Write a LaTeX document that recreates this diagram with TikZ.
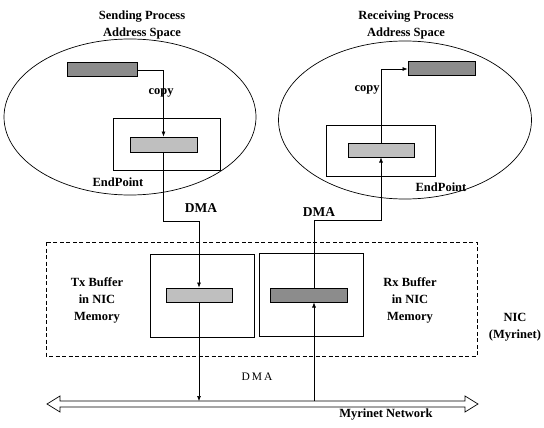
\documentclass[tikz,border=0pt]{standalone}
\usepackage{fontspec}
\setmainfont{Liberation Serif}
\usetikzlibrary{arrows.meta,shapes.geometric}
\tikzset{
  lbl/.style={font=\fontsize{12.5}{17}\selectfont\bfseries, align=center, inner sep=0pt},
  space/.style={draw, ellipse, line width=0.7pt, inner sep=0pt},
  box/.style={draw, rectangle, line width=0.7pt, inner sep=0pt},
  bufdark/.style={draw, rectangle, line width=1pt, fill=black!45, inner sep=0pt},
  buflight/.style={draw, rectangle, line width=1pt, fill=black!25, inner sep=0pt},
  conn/.style={line width=0.6pt},
  tip/.style={-{Latex[length=5pt,width=4pt]}},
}
\begin{document}
\begin{tikzpicture}[x=1pt,y=-1pt]
\useasboundingbox (0,0) rectangle (544,428);
% address spaces
\node[space, minimum width=252pt, minimum height=156pt] (elL) at (130,117) {};
\node[space, minimum width=253pt, minimum height=158pt] (elR) at (405,120) {};
\node[lbl] (tL) at (142,25) {Sending Process\\Address Space};
\node[lbl] (tR) at (406,25) {Receiving Process\\Address Space};
% left side
\node[bufdark, minimum width=70pt, minimum height=14pt] (bufLU) at (102,70) {};
\node[box, minimum width=107pt, minimum height=52pt] (epL) at (166.5,144) {};
\node[buflight, minimum width=67pt, minimum height=15pt] (bufLI) at (163.5,144.5) {};
\node[lbl] (copyL) at (161,93) {copy};
\node[lbl] (epLl) at (118,182) {EndPoint};
\node[lbl, font=\fontsize{13.5}{15}\selectfont\bfseries] (dmaL) at (201,208) {DMA};
% right side
\node[bufdark, minimum width=67pt, minimum height=14pt] (bufRU) at (441.5,69) {};
\node[box, minimum width=109pt, minimum height=51pt] (epR) at (380.5,150.5) {};
\node[buflight, minimum width=66pt, minimum height=14pt] (bufRI) at (381,150) {};
\node[lbl] (copyR) at (367,90) {copy};
\node[lbl] (epRl) at (441,187) {EndPoint};
\node[lbl, font=\fontsize{13.5}{15}\selectfont\bfseries] (dmaR) at (319,212) {DMA};
% NIC
\draw[line width=0.8pt, dash pattern=on 4pt off 2.5pt] (46,242) rectangle (477,356);
\node[box, minimum width=104pt, minimum height=83pt] (tx) at (202,295.5) {};
\node[buflight, minimum width=66pt, minimum height=14pt] (txbuf) at (199,295) {};
\node[box, minimum width=104pt, minimum height=83pt] (rx) at (311,294.5) {};
\node[bufdark, minimum width=77pt, minimum height=14pt] (rxbuf) at (308.5,295) {};
\node[lbl] (txl) at (97,300) {Tx Buffer\\in NIC\\Memory};
\node[lbl] (rxl) at (410,300) {Rx Buffer\\in NIC\\Memory};
\node[lbl] (nicl) at (515,327) {NIC\\(Myrinet)};
\node[font=\fontsize{11.5}{13}\selectfont, inner sep=0pt] (dmaB) at (257,377) {D\,M\,A};
% network
\draw[line width=0.7pt] (47,404) -- (60,396) -- (60,401) -- (465,401) -- (465,396) -- (478,404)
  -- (465,412) -- (465,407) -- (60,407) -- (60,412) -- cycle;
\coordinate (netTx) at (199,401);
\coordinate (netRx) at (314,401);
\node[lbl] (netl) at (386,415) {Myrinet Network};
% connectors
\draw[conn, tip] (bufLU.east) -| (bufLI.north);
\coordinate (cL1) at (163.5,221);
\coordinate (cL2) at (199,221);
\draw[conn, tip] (bufLI.south) -- (cL1) -- (cL2) -- (txbuf.north);
\draw[conn, tip] (txbuf.south) -- (netTx);
\draw[conn, tip] (netRx) -- (netRx |- rxbuf.south);
\coordinate (cR1) at (314,220);
\coordinate (cR2) at (381,220);
\draw[conn, tip] (netRx |- rxbuf.north) -- (cR1) -- (cR2) -- (bufRI.south);
\draw[conn, tip] (bufRI.north) |- (bufRU.west);
\end{tikzpicture}
\end{document}
